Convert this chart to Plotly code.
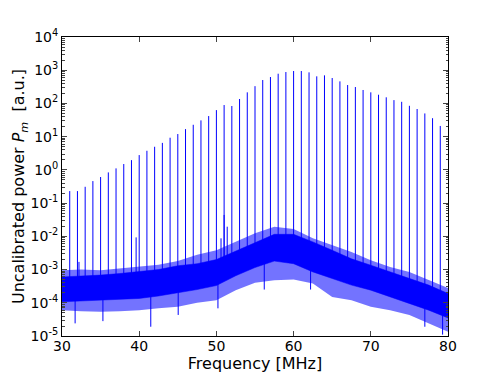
import plotly.graph_objects as go

# frequencies of the comb lines [MHz] and their peak power
comb_freq = list(range(31, 80))
comb_peak = [0.23, 0.23, 0.31, 0.46, 0.61, 0.84, 1.11, 1.50, 1.97, 2.79,
             3.76, 4.97, 6.5, 9.3, 12.0, 16.9, 22.8, 30.9, 41.7, 63,
             89.5, 83.6, 136, 216, 331, 507, 624, 785, 883, 946,
             946, 863, 655, 701, 582, 462, 358, 312, 254, 216,
             183, 153, 126, 112, 85, 68, 50, 36, 21]
# level where each comb line leaves the noise floor
comb_base = [2.5e-4, 2.5e-4, 2.5e-4, 2.8e-4, 2.8e-4, 2.8e-4, 2.8e-4, 3.3e-4, 3.3e-4, 3.3e-4,
             3.3e-4, 4.5e-4, 4.5e-4, 4.5e-4, 4.5e-4, 6e-4, 6e-4, 6e-4, 8e-4, 8e-4,
             8e-4, 1.5e-3, 1.5e-3, 2.5e-3, 2.5e-3, 4.5e-3, 4.5e-3, 4.5e-3, 4.5e-3, 4e-3,
             4e-3, 2.5e-3, 2.5e-3, 1.5e-3, 1.5e-3, 9e-4, 9e-4, 6e-4, 6e-4, 6e-4,
             3.8e-4, 3.8e-4, 3.8e-4, 2.3e-4, 2.3e-4, 2.3e-4, 1.3e-4, 1.3e-4, 1.3e-4]

# noise floor envelope
noise_freq = [30, 32.5, 35, 37.5, 40, 42.5, 45, 47.5, 50, 52.5, 55,
              57.5, 60, 62.5, 65, 67.5, 70, 72.5, 75, 77.5, 80]
core_hi = [6.0e-4, 6.3e-4, 6.8e-4, 7.6e-4, 8.5e-4, 1.0e-3, 1.3e-3, 1.5e-3, 2.0e-3, 3.6e-3, 6.5e-3,
           1.15e-2, 1.15e-2, 6.8e-3, 3.8e-3, 2.1e-3, 1.35e-3, 8.5e-4, 5.4e-4, 3.4e-4, 1.9e-4]
core_lo = [1.07e-4, 1.12e-4, 1.2e-4, 1.26e-4, 1.35e-4, 1.6e-4, 2.0e-4, 2.5e-4, 3.3e-4, 6.5e-4, 1.15e-3,
           1.8e-3, 1.5e-3, 8.5e-4, 5.4e-4, 3.4e-4, 2.4e-4, 1.5e-4, 9.5e-5, 6.0e-5, 3.5e-5]
tip_hi = [9.5e-4, 1.0e-3, 9.5e-4, 1.07e-3, 1.2e-3, 1.4e-3, 1.8e-3, 2.8e-3, 3.8e-3, 6.8e-3, 1.23e-2,
          1.95e-2, 1.66e-2, 8.7e-3, 5.4e-3, 3.4e-3, 1.9e-3, 1.2e-3, 8.5e-4, 4.8e-4, 2.8e-4]
tip_lo = [6.0e-5, 5.6e-5, 5.4e-5, 5.6e-5, 6.0e-5, 6.8e-5, 7.6e-5, 1.0e-4, 1.2e-4, 2.4e-4, 4.0e-4,
          4.8e-4, 5.0e-4, 3.8e-4, 1.5e-4, 1.2e-4, 7.6e-5, 6.0e-5, 4.3e-5, 2.4e-5, 1.35e-5]

# single noise excursions
spur_freq = [32.2, 39.6, 50.6, 51.0, 51.4, 31.7, 35.3, 41.5, 45.05, 50.2, 56.2, 62.2, 77.0, 79.3]
spur_top = [1.7e-3, 9.3e-3, 8.7e-3, 4.4e-2, 1.95e-2, 3e-4, 3e-4, 3e-4, 4e-4, 5e-4, 3e-3, 2e-3, 2e-4, 1.5e-4]
spur_bot = [4e-4, 5e-4, 8e-4, 8e-4, 8e-4, 2.4e-5, 2.8e-5, 1.9e-5, 4.3e-5, 6.8e-5, 2.5e-4, 2.5e-4, 1.9e-5, 1.1e-5]

# y tick labels
y_exp = [-5, -4, -3, -2, -1, 0, 1, 2, 3, 4]
y_ticktext = ["10<sup>%d</sup>" % e for e in y_exp]

blue = "#0000ff"
fig = go.Figure()

fig.add_trace(go.Scatter(x=noise_freq + noise_freq[::-1], y=tip_hi + tip_lo[::-1],
                         fill="toself", fillcolor="rgba(0,0,255,0.55)", mode="lines",
                         line=dict(width=0), hoverinfo="skip"))
fig.add_trace(go.Scatter(x=noise_freq + noise_freq[::-1], y=core_hi + core_lo[::-1],
                         fill="toself", fillcolor=blue, mode="lines",
                         line=dict(width=0.5, color=blue), hoverinfo="skip"))

sx, sy = [], []
for f, t, b in zip(spur_freq, spur_top, spur_bot):
    sx += [f, f, None]
    sy += [b, t, None]
fig.add_trace(go.Scatter(x=sx, y=sy, mode="lines", line=dict(color=blue, width=1)))

cx, cy = [], []
for f, p, b in zip(comb_freq, comb_peak, comb_base):
    cx += [f, f, None]
    cy += [b, p, None]
fig.add_trace(go.Scatter(x=cx, y=cy, mode="lines", line=dict(color=blue, width=1)))

font = "DejaVu Sans, Verdana, sans-serif"
fig.update_layout(
    width=498, height=374,
    margin=dict(l=62, r=50, t=37, b=38),
    showlegend=False,
    paper_bgcolor="white", plot_bgcolor="white",
    font=dict(family=font, size=14, color="black"),
)
fig.update_xaxes(range=[30, 80], dtick=10, ticks="inside", ticklen=5,
                 showline=True, linecolor="black", linewidth=1, mirror="allticks",
                 showgrid=False, zeroline=False, tickfont=dict(size=14), automargin=False,
                 ticklabelstandoff=-3,
                 title=dict(text="Frequency [MHz]", font=dict(size=16), standoff=2))
fig.update_yaxes(type="log", range=[-5, 4],
                 tickvals=[10.0 ** e for e in y_exp], ticktext=y_ticktext,
                 ticks="inside", ticklen=5,
                 minor=dict(ticks="inside", ticklen=2.5, dtick="D1", showgrid=False),
                 showline=True, linecolor="black", linewidth=1, mirror="allticks",
                 showgrid=False, zeroline=False, tickfont=dict(size=14), automargin=False,
                 title=dict(text="Uncalibrated power <i>P<sub>m</sub></i> &nbsp;[a.u.]",
                            font=dict(size=16), standoff=1))

# page margin off so the figure sits at the window's corner
fig.write_html("out.html", config={"displayModeBar": False},
               post_script="document.body.style.margin='0';")
